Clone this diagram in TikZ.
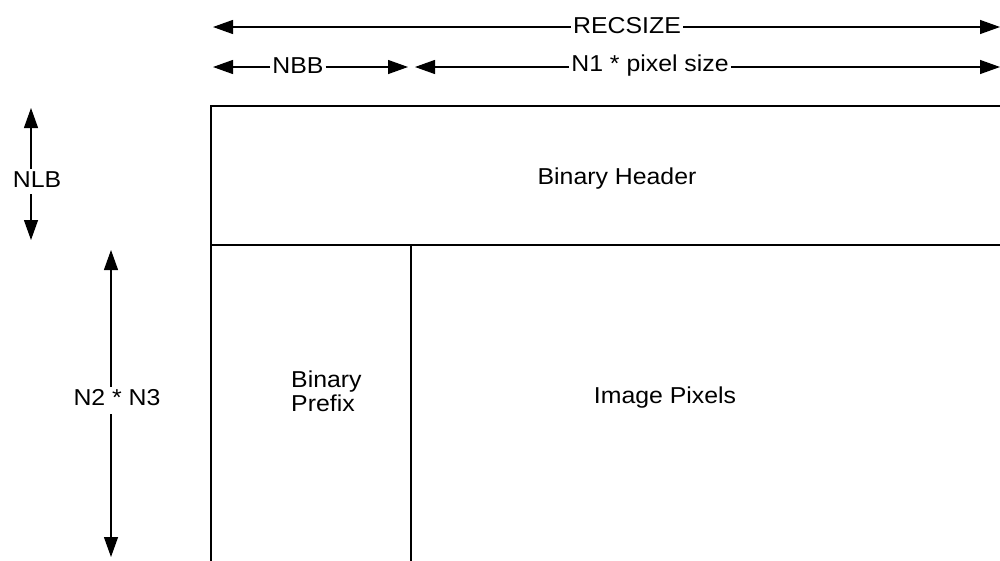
\documentclass[tikz,border=0pt]{standalone}
\usepackage{fontspec}
\usepackage{graphicx}
\setmainfont{Liberation Sans}
\usetikzlibrary{arrows.meta}
\newcommand\widetxt[1]{\scalebox{1.08}[1]{#1}}
\tikzset{
  lbl/.style={font=\fontsize{23}{27}\selectfont, inner sep=0pt, text=black},
  dimarrow/.style={line width=1.3pt, -{Triangle[length=20pt,width=14pt]}},
  boxline/.style={line width=1.6pt}
}
\begin{document}
\begin{tikzpicture}[x=1pt,y=-1pt]
\useasboundingbox (0,0) rectangle (1000,560);
% top dimension: RECSIZE
\node[lbl] (rec) at (627,26) {\widetxt{RECSIZE}};
\coordinate (recL) at (213,27);
\coordinate (recR) at (1000,27);
\draw[dimarrow] ([xshift=-2pt]rec.west |- recL) -- (recL);
\draw[dimarrow] ([xshift=2pt]rec.east |- recR) -- (recR);
% NBB
\node[lbl] (nbb) at (298,66) {\widetxt{NBB}};
\coordinate (nbbL) at (213,67);
\coordinate (nbbR) at (408,67);
\draw[dimarrow] ([xshift=-2pt]nbb.west |- nbbL) -- (nbbL);
\draw[dimarrow] ([xshift=2pt]nbb.east |- nbbR) -- (nbbR);
% N1 * pixel size
\node[lbl] (npx) at (650,66) {\widetxt{N1 * pixel size}};
\coordinate (npxL) at (415,67);
\coordinate (npxR) at (1000,67);
\draw[dimarrow] ([xshift=-2pt]npx.west |- npxL) -- (npxL);
\draw[dimarrow] ([xshift=2pt]npx.east |- npxR) -- (npxR);
% NLB
\node[lbl] (nlb) at (37,180) {\widetxt{NLB}};
\coordinate (nlbT) at (31,108);
\coordinate (nlbB) at (31,240);
\draw[dimarrow] ([yshift=3pt]nlb.north -| nlbT) -- (nlbT);
\draw[dimarrow] ([yshift=-6pt]nlb.south -| nlbB) -- (nlbB);
% N2 * N3
\node[lbl] (n23) at (117,398) {\widetxt{N2 * N3}};
\coordinate (n23T) at (111,250);
\coordinate (n23B) at (111,557);
\draw[dimarrow] ([yshift=3pt]n23.north -| n23T) -- (n23T);
\draw[dimarrow] ([yshift=-8pt]n23.south -| n23B) -- (n23B);
% record box
\coordinate (bTL) at (211,106);
\coordinate (bTR) at (1005,106);
\coordinate (bML) at (211,245);
\coordinate (bMR) at (1005,245);
\coordinate (bBL) at (211,565);
\coordinate (pT) at (411,245);
\coordinate (pB) at (411,565);
\draw[boxline] (bTR) -- (bTL) -- (bBL);
\draw[boxline] (bML) -- (bMR);
\draw[boxline] (pT) -- (pB);
% region labels
\node[lbl] (hdr) at (617,179) {\widetxt{Binary Header}};
\node[lbl, align=left, anchor=west] (pre) at (291,391) {\widetxt{Binary}\\[-3pt]\widetxt{Prefix}};
\node[lbl] (pix) at (665,398) {\widetxt{Image Pixels}};
\end{tikzpicture}
\end{document}
